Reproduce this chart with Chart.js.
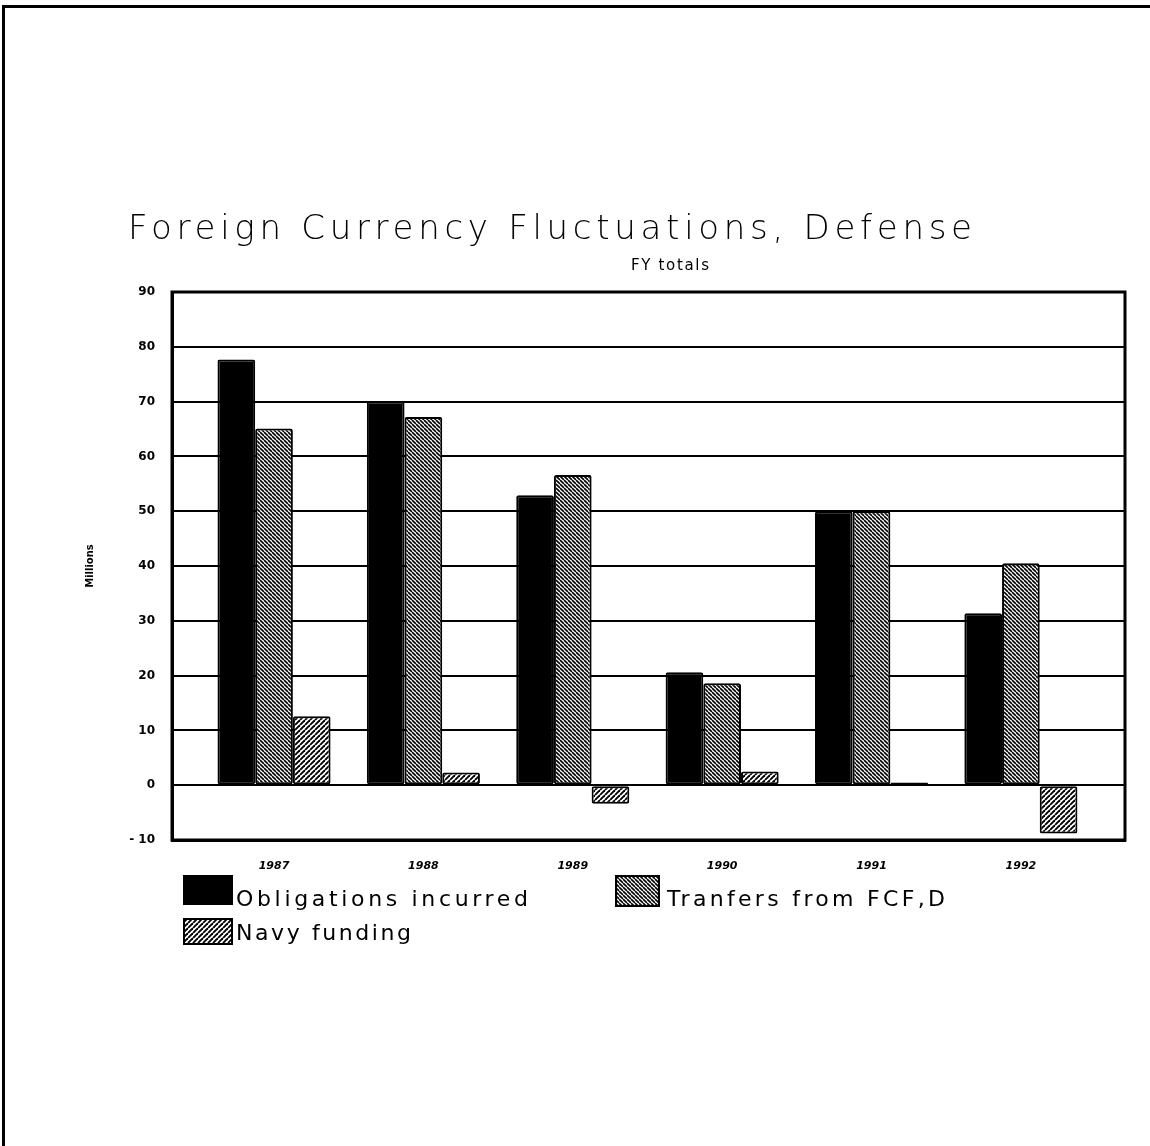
<!DOCTYPE html>
<html>
<head>
<meta charset="utf-8">
<script src="https://cdn.jsdelivr.net/npm/chart.js@4.4.1/dist/chart.umd.min.js"></script>
<style>
  html, body { margin: 0; padding: 0; background: #fff; }
  #page { position: relative; width: 1150px; height: 1146px; overflow: hidden; }
  #frame { position: absolute; left: 2px; top: 5px; width: 1160px; height: 1200px;
           border-left: 3px solid #000; border-top: 3px solid #000; }
  #wrap { position: absolute; left: 0; top: 0; width: 1150px; height: 1146px; }
  .txt { position: absolute; white-space: nowrap; color: #000; font-family: "DejaVu Sans", sans-serif; }
  #title { left: 128px; top: 210px; font-size: 34px; line-height: 34px; font-weight: 200; }
  #subtitle { left: 631px; top: 257px; font-size: 15px; line-height: 16px; font-weight: 500; }
  .leg { font-size: 22px; line-height: 22px; }
  .sw { position: absolute; }
</style>
</head>
<body>
<div id="page">
  <div id="frame"></div>
  <div id="wrap"><canvas id="chart"></canvas></div>
  <div class="txt" id="title" data-w="844">Foreign Currency Fluctuations, Defense</div>
  <div class="txt" id="subtitle" data-w="78">FY totals</div>
  <div id="legend"></div>
</div>
<script>
/* ── data ── */
const years = [1987, 1988, 1989, 1990, 1991, 1992];
const obligations = [77.7, 70, 52.9, 20.6, 50, 31.4];
const transfers = [65.1, 67.2, 56.6, 18.6, 50, 40.5];
const navy = [12.6, 2.3, -3.4, 2.5, 0.5, -8.8];
const yTicks = [-10, 0, 10, 20, 30, 40, 50, 60, 70, 80, 90];
const seriesNames = ['Obligations incurred', 'Tranfers from FCF,D', 'Navy funding'];

/* ── hatch fills ── */
function hatch(dir, s, lw) {
  const c = document.createElement('canvas');
  c.width = c.height = s;
  const g = c.getContext('2d');
  g.fillStyle = '#fff';
  g.fillRect(0, 0, s, s);
  g.strokeStyle = '#000';
  g.lineWidth = lw;
  for (let k = -1; k <= 1; k++) {
    g.beginPath();
    if (dir === '\\') { g.moveTo(k * s, 0); g.lineTo(k * s + s, s); }
    else { g.moveTo(k * s, s); g.lineTo(k * s + s, 0); }
    g.stroke();
  }
  return c;
}
const tmpCtx = document.createElement('canvas').getContext('2d');
const transferTile = hatch('\\', 4, 1.6);
const navyTile = hatch('/', 5, 1.9);
const fills = ['#000', tmpCtx.createPattern(transferTile, 'repeat'), tmpCtx.createPattern(navyTile, 'repeat')];

const pts = arr => arr.map((v, i) => ({ x: years[i], y: v }));

/* ── plot box on top/right ── */
const boxPlugin = {
  id: 'box',
  afterDatasetsDraw(chart) {
    const { ctx, chartArea: a } = chart;
    ctx.save();
    ctx.strokeStyle = '#000';
    ctx.lineWidth = 3;
    ctx.strokeRect(a.left, a.top, a.right - a.left, a.bottom - a.top);
    ctx.restore();
  }
};

const ctx = document.getElementById('chart').getContext('2d');
const chart = new Chart(ctx, {
  type: 'bar',
  data: {
    datasets: [obligations, transfers, navy].map((arr, i) => ({
      label: seriesNames[i],
      data: pts(arr),
      backgroundColor: fills[i],
      borderColor: '#000',
      borderWidth: 2,
      borderRadius: 2,
      borderSkipped: false,
      categoryPercentage: 0.757,
      barPercentage: 1
    }))
  },
  options: {
    responsive: true,
    maintainAspectRatio: false,
    animation: false,
    layout: { padding: { left: 80, top: 292, right: 25, bottom: 276 } },
    plugins: { legend: { display: false }, tooltip: { enabled: false } },
    scales: {
      x: {
        type: 'linear',
        offset: false,
        min: 1986.317,
        max: 1992.697,
        afterBuildTicks: s => { s.ticks = years.map(v => ({ value: v })); },
        afterFit: s => { s.height = 30; },
        ticks: {
          callback: v => String(v),
          color: '#000',
          padding: 12,
          maxRotation: 0,
          font: { size: 11, style: 'italic', weight: 'bold', family: 'DejaVu Sans' }
        },
        grid: { display: false, offset: false },
        border: { color: '#000', width: 3 }
      },
      y: {
        min: -10,
        max: 90,
        afterBuildTicks: s => { s.ticks = yTicks.map(v => ({ value: v })); },
        afterFit: s => { s.width = 92; },
        ticks: {
          callback: v => (v < 0 ? '- ' + Math.abs(v) : String(v)),
          color: '#000',
          padding: 17,
          font: { size: 12, weight: 'bold', family: 'DejaVu Sans' }
        },
        grid: { color: '#000', lineWidth: 2, drawTicks: false },
        border: { color: '#000', width: 3 },
        title: {
          display: true,
          text: 'Millions',
          color: '#000',
          padding: { top: 4, bottom: 0 },
          font: { size: 10, weight: 'bold', family: 'DejaVu Sans' }
        }
      }
    }
  },
  plugins: [boxPlugin]
});

/* ── legend ── */
const legendSpots = [
  { box: [183, 875, 50, 30], text: [236, 888], w: 292 },
  { box: [615, 875, 45, 32], text: [667, 888], w: 278 },
  { box: [183, 918, 50, 27], text: [236, 922], w: 175 }
];
const legend = document.getElementById('legend');
chart.data.datasets.forEach((ds, i) => {
  const spot = legendSpots[i];
  const sw = document.createElement('canvas');
  sw.className = 'sw';
  sw.width = spot.box[2];
  sw.height = spot.box[3];
  sw.style.left = spot.box[0] + 'px';
  sw.style.top = spot.box[1] + 'px';
  const g = sw.getContext('2d');
  g.fillStyle = i === 0 ? '#000' : g.createPattern(i === 1 ? transferTile : navyTile, 'repeat');
  g.fillRect(0, 0, sw.width, sw.height);
  g.strokeStyle = '#000';
  g.lineWidth = 2;
  g.strokeRect(1, 1, sw.width - 2, sw.height - 2);
  legend.appendChild(sw);
  const t = document.createElement('div');
  t.className = 'txt leg';
  t.textContent = ds.label;
  t.dataset.w = spot.w;
  t.style.left = spot.text[0] + 'px';
  t.style.top = spot.text[1] + 'px';
  legend.appendChild(t);
});

/* ── stretch plotter-style lettering to the reference widths ── */
document.querySelectorAll('.txt').forEach(el => {
  const target = +el.dataset.w;
  const w = el.getBoundingClientRect().width;
  const n = el.textContent.length - 1;
  if (n > 0) el.style.letterSpacing = ((target - w) / n) + 'px';
});
</script>
</body>
</html>
